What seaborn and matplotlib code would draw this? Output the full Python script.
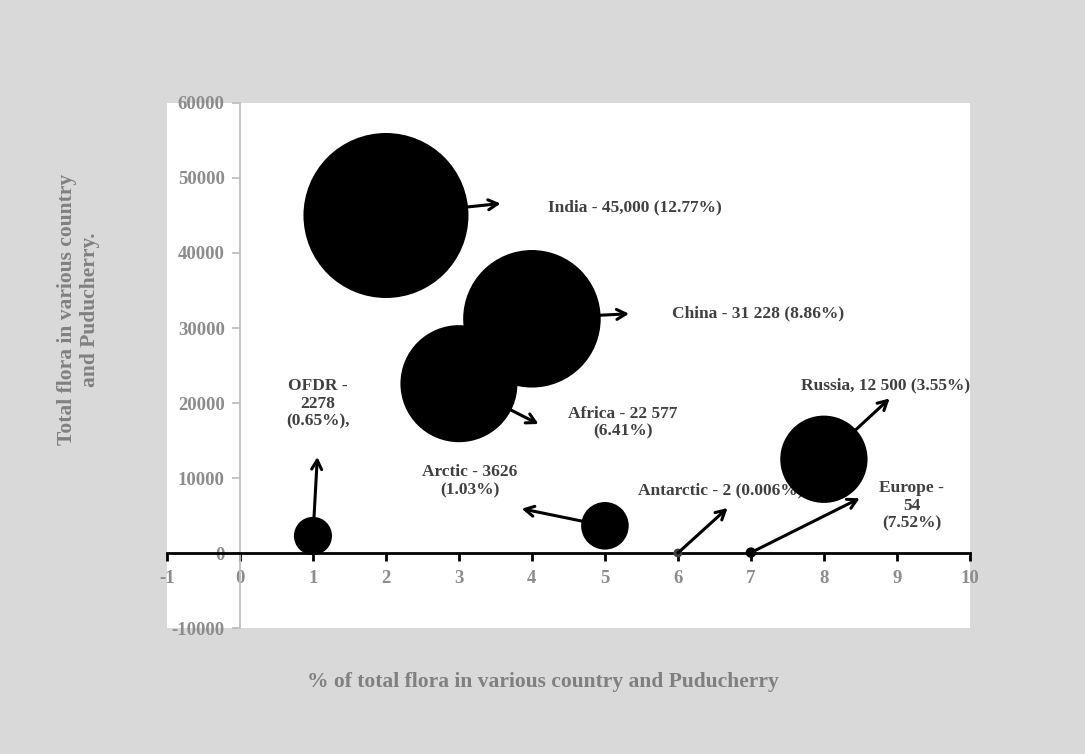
import matplotlib
matplotlib.use("Agg")
import matplotlib.pyplot as plt
import seaborn as sns
import pandas as pd

# Data: position on the % axis, total flora (also the bubble size)
regions = ["OFDR", "India", "Africa", "China", "Arctic", "Antarctic", "Europe", "Russia"]
pct_position = [1, 2, 3, 4, 5, 6, 7, 8]
total_flora = [2278, 45000, 22577, 31228, 3626, 2, 54, 12500]
labels = [
    "OFDR -\n2278\n(0.65%),",
    "India - 45,000 (12.77%)",
    "Africa - 22 577\n(6.41%)",
    "China - 31 228 (8.86%)",
    "Arctic - 3626\n(1.03%)",
    "Antarctic - 2 (0.006%)",
    "Europe -\n54\n(7.52%)",
    "Russia, 12 500 (3.55%)",
]
x_ticks = list(range(-1, 11))
y_ticks = list(range(-10000, 60001, 10000))

# Label placement (text anchor, alignment) and arrow tips, in data units
label_xy = [(1.07, 19900), (4.22, 46100), (5.25, 17400), (5.92, 31900),
            (3.15, 9600), (5.45, 8300), (9.2, 6300), (7.69, 22400)]
label_ha = ["center", "left", "center", "left", "center", "left", "center", "left"]
arrow_tip = [(1.06, 12800), (3.57, 46600), (4.09, 17200), (5.33, 31900),
             (3.86, 5900), (6.68, 6000), (8.49, 7300), (8.9, 20600)]
colors = {r: "black" for r in regions}
colors["Antarctic"] = "#404040"

df = pd.DataFrame({"region": regions, "pct": pct_position, "flora": total_flora})

FONT = "Liberation Serif"
sns.set_theme(style="white")
plt.rcParams["font.family"] = FONT
plt.rcParams["font.weight"] = "bold"
plt.rcParams["axes.unicode_minus"] = False

fig = plt.figure(figsize=(10.85, 7.54), dpi=100, facecolor="#d9d9d9")
ax = fig.add_axes([0.1539, 0.1671, 0.740, 0.6963])
ax.set_facecolor("white")

sns.scatterplot(data=df, x="pct", y="flora", hue="region", palette=colors,
                size="flora", sizes=(40, 14113), size_norm=(0, 45000),
                linewidth=0, legend=False, ax=ax, zorder=3)

for (tx, ty), cx, cy in zip(arrow_tip, pct_position, total_flora):
    ax.annotate("", xy=(tx, ty), xytext=(cx, cy),
                arrowprops=dict(arrowstyle="->,head_length=0.55,head_width=0.3",
                                lw=2.2, color="black", shrinkA=0, shrinkB=0),
                zorder=4)

for text, (lx, ly), ha in zip(labels, label_xy, label_ha):
    ax.text(lx, ly, text, ha=ha, va="center", fontsize=12.5, family=FONT,
            fontweight="bold", color="#404040", linespacing=1.15, zorder=2)

ax.set_xlim(-1, 10)
ax.set_ylim(-10000, 60000)
ax.set_xticks(x_ticks)
ax.set_yticks(y_ticks)
ax.set_xlabel("")
ax.set_ylabel("")

ax.spines["top"].set_visible(False)
ax.spines["right"].set_visible(False)
ax.spines["left"].set_position(("data", 0))
ax.spines["left"].set_color("#bfbfbf")
ax.spines["left"].set_linewidth(1.3)
ax.spines["bottom"].set_position(("data", 0))
ax.spines["bottom"].set_color("black")
ax.spines["bottom"].set_linewidth(2)

ax.tick_params(axis="x", direction="out", length=6, width=2, color="black",
               pad=6, labelsize=13.5, labelcolor="#8c8c8c", bottom=True)
ax.tick_params(axis="y", direction="out", length=6, width=1.3, color="#bfbfbf",
               pad=5, labelsize=13.5, labelcolor="#8c8c8c", left=True)
for lab in ax.get_xticklabels() + ax.get_yticklabels():
    lab.set_family(FONT)
    lab.set_fontweight("bold")

fig.text(0.5005, 0.0955, "% of total flora in various country and Puducherry",
         ha="center", va="center", fontsize=15.5, family=FONT, fontweight="bold",
         color="#808080")
fig.text(0.0719, 0.589, "Total flora in various country\nand Puducherry.",
         ha="center", va="center", rotation=90, fontsize=15.5, family=FONT,
         fontweight="bold", color="#808080", linespacing=1.2)

fig.savefig("out.png", dpi=100, facecolor=fig.get_facecolor())
